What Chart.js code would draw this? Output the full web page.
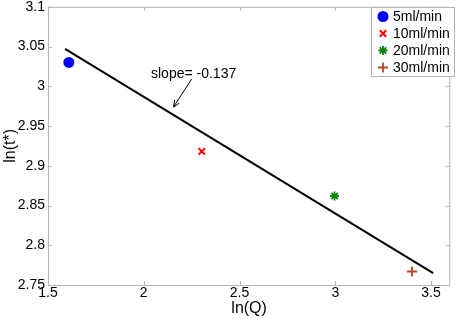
<!DOCTYPE html>
<html><head><meta charset="utf-8">
<script src="https://cdn.jsdelivr.net/npm/chart.js@4.4.1/dist/chart.umd.min.js"></script>
<style>html,body{margin:0;padding:0;background:#fff}#wrap{width:457px;height:319px}</style>
</head><body><div id="wrap"><canvas id="c" width="457" height="319"></canvas></div>
<script>
const seriesLabels = ['5ml/min', '10ml/min', '20ml/min', '30ml/min'];
const lnQ = [1.609, 2.303, 2.996, 3.401];
const lnT = [3.030, 2.918, 2.862, 2.767];
const fitX = [1.589, 3.511];
const fitY = [3.047, 2.765];
const xTicks = [1.5, 2, 2.5, 3, 3.5];
const yTicks = [2.75, 2.8, 2.85, 2.9, 2.95, 3, 3.05, 3.1];
const annotationText = 'slope= -0.137';

const colors = ['#0000ff', '#ff0000', '#0b850b', '#b3461a'];
const styles = ['circle', 'crossRot', 'star', 'cross'];
const radii = [5.5, 4.5, 4.5, 5];
const widths = [0, 2, 1.8, 1.8];
const FONT = '"Liberation Sans", Arial, Helvetica, sans-serif';

const datasets = seriesLabels.map((lab, i) => ({
  type: 'scatter', label: lab,
  data: [{x: lnQ[i], y: lnT[i]}],
  pointStyle: styles[i], pointRadius: radii[i], pointHoverRadius: radii[i],
  backgroundColor: colors[i], borderColor: colors[i], borderWidth: widths[i]
}));
datasets.push({
  type: 'line', label: 'fit', data: fitX.map((x, i) => ({x, y: fitY[i]})),
  borderColor: '#000', borderWidth: 2, pointRadius: 0, fill: false
});

const framePlugin = {
  id: 'frame',
  afterDraw(chart) {
    const ctx = chart.ctx, a = chart.chartArea, xs = chart.scales.x, ys = chart.scales.y;
    ctx.save();
    ctx.strokeStyle = '#b5b5b5'; ctx.lineWidth = 1;
    ctx.strokeRect(a.left + 0.5, a.top + 0.5, a.right - a.left - 1, a.bottom - a.top);
    ctx.beginPath();
    const L = 4;
    xTicks.forEach(v => { const p = Math.round(xs.getPixelForValue(v)) + 0.5;
      ctx.moveTo(p, a.bottom); ctx.lineTo(p, a.bottom - L);
      ctx.moveTo(p, a.top); ctx.lineTo(p, a.top + L); });
    yTicks.forEach(v => { const p = Math.round(ys.getPixelForValue(v)) + 0.5;
      ctx.moveTo(a.left, p); ctx.lineTo(a.left + L, p);
      ctx.moveTo(a.right, p); ctx.lineTo(a.right - L, p); });
    ctx.stroke();

    // annotation with arrow
    const tx = xs.getPixelForValue(1.5) + 103, ty = ys.getPixelForValue(3.1) + 67;
    ctx.fillStyle = '#000'; ctx.font = '14px ' + FONT; ctx.textBaseline = 'middle';
    ctx.fillText(annotationText, tx, ty);
    const ax0 = 191.7, ay0 = 79, ax1 = 173.5, ay1 = 107;
    ctx.strokeStyle = '#000'; ctx.lineWidth = 1;
    ctx.beginPath(); ctx.moveTo(ax0, ay0); ctx.lineTo(ax1, ay1); ctx.stroke();
    const ang = Math.atan2(ay1 - ay0, ax1 - ax0), hl = 7, hw = 0.4;
    ctx.beginPath();
    ctx.moveTo(ax1 - hl * Math.cos(ang - hw), ay1 - hl * Math.sin(ang - hw));
    ctx.lineTo(ax1, ay1);
    ctx.lineTo(ax1 - hl * Math.cos(ang + hw), ay1 - hl * Math.sin(ang + hw));
    ctx.stroke();

    // legend box
    const bx = 371, by = 7, bw = 83, bh = 69;
    ctx.fillStyle = '#fff'; ctx.fillRect(bx, by, bw, bh);
    ctx.strokeStyle = '#b5b5b5'; ctx.strokeRect(bx + 0.5, by + 0.5, bw, bh);
    chart.data.datasets.slice(0, 4).forEach((d, i) => {
      const cy = by + 9.5 + i * 17;
      ctx.save();
      ctx.fillStyle = d.backgroundColor; ctx.strokeStyle = d.borderColor; ctx.lineWidth = d.borderWidth || 1;
      Chart.helpers.drawPoint(ctx, {pointStyle: d.pointStyle, radius: d.pointRadius, borderWidth: d.borderWidth}, 383, cy);
      ctx.restore();
      ctx.fillStyle = '#000'; ctx.font = '14px ' + FONT; ctx.textBaseline = 'middle';
      ctx.fillText(d.label, 393, cy + 0.5);
    });
    ctx.restore();
  }
};

new Chart(document.getElementById('c'), {
  data: { datasets },
  options: {
    responsive: false, animation: false, events: [],
    layout: { padding: { top: 5, right: 1, left: 0, bottom: 0 } },
    plugins: { legend: { display: false }, tooltip: { enabled: false } },
    scales: {
      x: {
        type: 'linear', min: 1.5, max: 3.6,
        afterBuildTicks: s => { s.ticks = xTicks.map(v => ({value: v})); },
        afterFit: s => { s.height = 34; s.paddingLeft = 0; s.paddingRight = 0; },
        grid: { display: false, drawTicks: false }, border: { display: false },
        ticks: { color: '#000', font: { size: 14, family: FONT }, padding: 0, maxRotation: 0, callback: v => String(v) },
        title: { display: true, text: 'ln(Q)', color: '#000', font: { size: 16, family: FONT }, padding: { top: 1, bottom: 1 } }
      },
      y: {
        type: 'linear', min: 2.75, max: 3.1,
        afterBuildTicks: s => { s.ticks = yTicks.map(v => ({value: v})); },
        afterFit: s => { s.width = 48; s.paddingTop = 0; s.paddingBottom = 0; },
        grid: { display: false, drawTicks: false }, border: { display: false },
        ticks: { color: '#000', font: { size: 14, family: FONT }, padding: 3, callback: v => String(v) },
        title: { display: true, text: 'ln(t*)', color: '#000', font: { size: 16, family: FONT }, padding: { top: 1, bottom: 0 } }
      }
    }
  },
  plugins: [framePlugin]
});
</script></body></html>
